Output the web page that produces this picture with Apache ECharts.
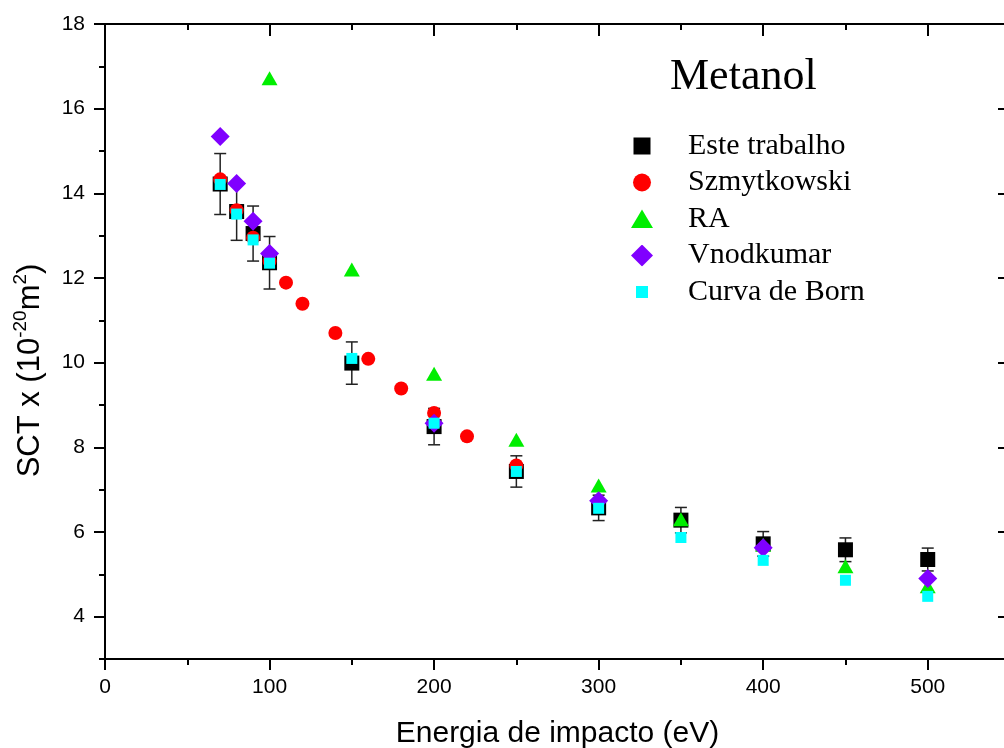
<!DOCTYPE html>
<html>
<head>
<meta charset="utf-8">
<script src="https://cdn.jsdelivr.net/npm/echarts@6/dist/echarts.min.js"></script>
<style>
  html, body { margin: 0; background: #fff; }
  #chart { width: 1004px; height: 748px; }
</style>
</head>
<body>
<div id="chart"></div>
<script>
// energies (eV) and cross sections (10^-20 m^2)
const energias = [70, 80, 90, 100, 150, 200, 250, 300, 350, 400, 450, 500]
const esteTrabalho = [14.22, 13.57, 13.05, 12.36, 9.99, 8.49, 7.43, 6.57, 6.28, 5.72, 5.58, 5.35]
const esteErro = [0.72, 0.68, 0.65, 0.62, 0.5, 0.43, 0.37, 0.3, 0.3, 0.29, 0.28, 0.27]

const szmytEnergias = [70, 80, 90, 100, 110, 120, 140, 160, 180, 200, 220, 250]
const szmytkowski = [14.33, 13.6, 12.95, 12.4, 11.89, 11.39, 10.7, 10.09, 9.39, 8.81, 8.26, 7.57]

const raEnergias = [100, 150, 200, 250, 300, 350, 400, 450, 500]
const ra = [16.72, 12.2, 9.74, 8.18, 7.1, 6.3, 5.7, 5.19, 4.72]

const vnodEnergias = [70, 80, 90, 100, 200, 300, 400, 500]
const vnodkumar = [15.34, 14.23, 13.34, 12.58, 8.57, 6.74, 5.63, 4.9]

const bornEnergias = [70, 80, 90, 100, 150, 200, 250, 300, 350, 400, 450, 500]
const born = [14.21, 13.51, 12.9, 12.35, 10.1, 8.57, 7.43, 6.56, 5.87, 5.33, 4.86, 4.48]

const xMajor = [0, 100, 200, 300, 400, 500]
const xMinor = [50, 150, 250, 350, 450, 550]
const yMajor = [4, 6, 8, 10, 12, 14, 16, 18]
const yMinor = [3, 5, 7, 9, 11, 13, 15, 17]

const pairs = (xs, ys) => xs.map((x, i) => [x, ys[i]])

// legend icons as small svg images so each marker keeps its own size
const svgIcon = (body) => 'image://data:image/svg+xml;charset=utf-8,' + encodeURIComponent(
  '<svg xmlns="http://www.w3.org/2000/svg" width="24" height="22" viewBox="0 0 24 22">' + body + '</svg>')
const icons = {
  'Este trabalho': svgIcon('<rect x="3.5" y="2.5" width="17" height="17" fill="#000"/>'),
  'Szmytkowski': svgIcon('<circle cx="12" cy="11" r="9" fill="#ff0000"/>'),
  'RA': svgIcon('<polygon points="12,1.5 23,20 1,20" fill="#00ee00"/>'),
  'Vnodkumar': svgIcon('<polygon points="12,0 23,11 12,22 1,11" fill="#8000ff"/>'),
  'Curva de Born': svgIcon('<rect x="6" y="5" width="12" height="12" fill="#00ffff"/>')
}

const chart = echarts.init(document.getElementById('chart'))

const sans = 'Liberation Sans'
const serif = 'Liberation Serif'
const axisLine = { show: true, onZero: false, lineStyle: { color: '#000', width: 2 } }
const noLine = { show: false }

// helper for the tick-only axes (major / minor, outside / inside)
const xAxisOf = (position, ticks, len, inside, extra) => Object.assign({
  type: 'value', position, min: 0, max: 550,
  axisLine: extra ? axisLine : noLine,
  axisTick: { show: true, inside, length: len, customValues: ticks, lineStyle: { color: '#000', width: 2 } },
  axisLabel: { show: false },
  splitLine: { show: false }
}, extra || {})

const yAxisOf = (position, ticks, len, inside, extra) => Object.assign({
  type: 'value', position, min: 3, max: 18,
  axisLine: extra ? axisLine : noLine,
  axisTick: { show: true, inside, length: len, customValues: ticks, lineStyle: { color: '#000', width: 2 } },
  axisLabel: { show: false },
  splitLine: { show: false }
}, extra || {})

const legendNames = ['Este trabalho', 'Szmytkowski', 'RA', 'Vnodkumar', 'Curva de Born']

const option = {
  animation: false,
  backgroundColor: '#fff',
  grid: { left: 105, top: 24, width: 905, height: 635, outerBoundsMode: 'none', containLabel: false },
  title: {
    text: 'Metanol',
    left: 670, top: 55, padding: 0,
    textStyle: { fontFamily: serif, fontSize: 44, fontWeight: 'normal', color: '#000' }
  },
  legend: {
    orient: 'vertical',
    left: 625, top: 126,
    itemWidth: 24, itemHeight: 22, itemGap: 6.5,
    textStyle: { fontFamily: serif, fontSize: 30, lineHeight: 30, color: '#000', padding: [0, 0, 0, 29] },
    data: legendNames.map(n => ({ name: n, icon: icons[n] }))
  },
  xAxis: [
    xAxisOf('bottom', xMajor, 11, false, {
      axisLine,
      name: 'Energia de impacto (eV)',
      nameLocation: 'middle',
      nameGap: 60,
      nameMoveOverlap: false,
      nameTextStyle: { fontFamily: sans, fontSize: 30, color: '#000' },
      axisLabel: { show: true, customValues: xMajor, fontFamily: sans, fontSize: 21, color: '#000', margin: 18 }
    }),
    xAxisOf('bottom', xMinor, 6, false),
    xAxisOf('top', xMajor, 12, true, { axisLine }),
    xAxisOf('top', xMinor, 6, true)
  ],
  yAxis: [
    yAxisOf('left', yMajor, 11, false, {
      axisLine,
      name: '{a|SCT x (10}{s|-20}{a|m}{s|2}{a|)}',
      nameLocation: 'middle',
      nameGap: 56,
      nameMoveOverlap: false,
      nameTextStyle: {
        padding: [0, 58, 0, 0],
        rich: {
          a: { fontFamily: sans, fontSize: 31, color: '#000', lineHeight: 38 },
          s: { fontFamily: sans, fontSize: 19, color: '#000', lineHeight: 38, verticalAlign: 'top' }
        }
      },
      axisLabel: { show: true, customValues: yMajor, fontFamily: sans, fontSize: 21, color: '#000', margin: 20 }
    }),
    yAxisOf('left', yMinor, 6, false),
    yAxisOf('right', yMajor, 12, true, { axisLine }),
    yAxisOf('right', yMinor, 6, true)
  ],
  series: [
    {
      name: 'erro',
      type: 'custom',
      xAxisIndex: 0, yAxisIndex: 0,
      data: energias.map((e, i) => [e, esteTrabalho[i] - esteErro[i], esteTrabalho[i] + esteErro[i]]),
      renderItem: (params, api) => {
        const top = api.coord([api.value(0), api.value(2)])
        const bot = api.coord([api.value(0), api.value(1)])
        const w = 6
        const style = { stroke: '#222', lineWidth: 1.5 }
        return {
          type: 'group',
          children: [
            { type: 'line', shape: { x1: top[0], y1: top[1], x2: bot[0], y2: bot[1] }, style },
            { type: 'line', shape: { x1: top[0] - w, y1: top[1], x2: top[0] + w, y2: top[1] }, style },
            { type: 'line', shape: { x1: bot[0] - w, y1: bot[1], x2: bot[0] + w, y2: bot[1] }, style }
          ]
        }
      }
    },
    {
      name: 'Este trabalho', type: 'scatter', symbol: 'rect', symbolSize: 15,
      itemStyle: { color: '#000', opacity: 1 },
      data: pairs(energias, esteTrabalho)
    },
    {
      name: 'Szmytkowski', type: 'scatter', symbol: 'circle', symbolSize: 14,
      itemStyle: { color: '#ff0000', opacity: 1 },
      data: pairs(szmytEnergias, szmytkowski)
    },
    {
      name: 'RA', type: 'scatter', symbol: 'triangle', symbolSize: [16, 14],
      itemStyle: { color: '#00ee00', opacity: 1 },
      data: pairs(raEnergias, ra)
    },
    {
      name: 'Vnodkumar', type: 'scatter', symbol: 'diamond', symbolSize: 19,
      itemStyle: { color: '#8000ff', opacity: 1 },
      data: pairs(vnodEnergias, vnodkumar)
    },
    {
      name: 'Curva de Born', type: 'scatter', symbol: 'rect', symbolSize: 11,
      itemStyle: { color: '#00ffff', opacity: 1 },
      data: pairs(bornEnergias, born)
    }
  ]
}

chart.setOption(option)
window.addEventListener('resize', () => chart.resize())
</script>
</body>
</html>
